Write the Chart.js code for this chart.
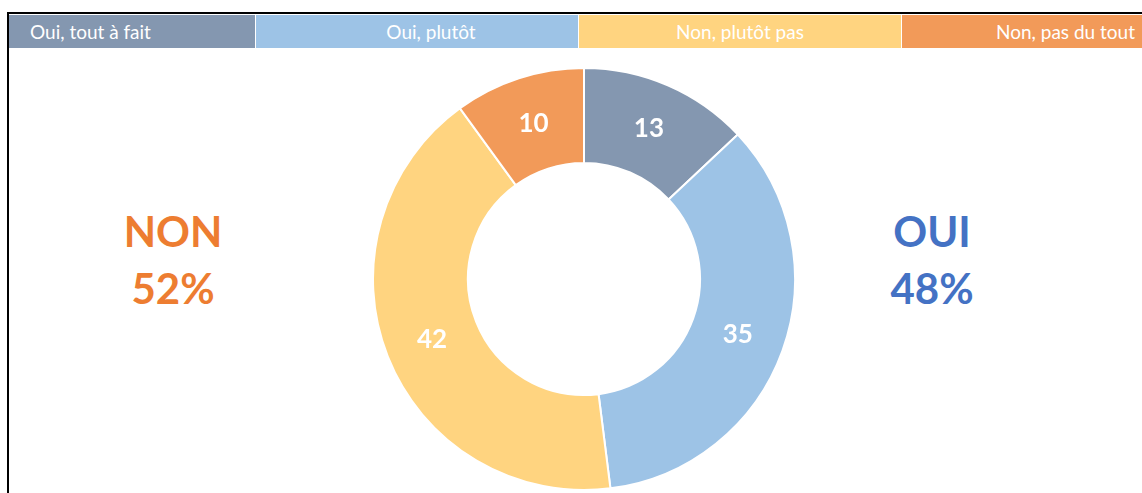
<!DOCTYPE html>
<html>
<head>
<meta charset="utf-8">
<script src="https://cdn.jsdelivr.net/npm/chart.js@4.4.1/dist/chart.umd.min.js"></script>
<style>
  html, body { margin: 0; padding: 0; background: #fff; }
  #wrap { position: relative; width: 1142px; height: 493px; overflow: hidden; font-family: Lato, 'Open Sans', sans-serif; }
  #frame { position: absolute; left: 7px; top: 12px; width: 1200px; height: 600px; border-left: 2px solid #000; border-top: 2px solid #000; }
  #legend { position: absolute; left: 9px; top: 15px; height: 33px; width: 1133px; display: flex; }
  .cell { height: 33px; line-height: 33px; color: #fff; font-size: 19px; box-sizing: border-box; white-space: nowrap; }
  .big { position: absolute; font-weight: 700; font-size: 42px; line-height: 57px; text-align: center; width: 200px; }
  #canvas-donut-wrap { position: absolute; left: 0; top: 0; width: 1142px; height: 493px; }
</style>
</head>
<body>
<div id="wrap">
  <div id="frame"></div>
  <div id="legend"></div>
  <div class="big" id="txt-non" style="left:73px; top:203px; color:#ED7D31;">NON<br>52%</div>
  <div class="big" id="txt-oui" style="left:832px; top:203px; color:#4472C4;">OUI<br>48%</div>
  <div id="canvas-donut-wrap"><canvas id="canvas-donut"></canvas></div>
</div>
<script>
// Categories and values
const categories = ['Oui, tout à fait', 'Oui, plutôt', 'Non, plutôt pas', 'Non, pas du tout'];
const values = [13, 35, 42, 10];
const sliceColors = ['#8497B0', '#9DC3E6', '#FFD480', '#F29A59'];

// legend strip across the top (cell widths + alignment as in the original)
const legendWidths = [246, 323, 323, 241];
const legendAlign = ['left', 'center', 'center', 'right'];
const legendPad = [21, 28, 0, 7];

const legendEl = document.getElementById('legend');
categories.forEach((cat, i) => {
  const d = document.createElement('div');
  d.className = 'cell';
  d.textContent = cat;
  d.style.width = legendWidths[i] + 'px';
  d.style.background = sliceColors[i];
  d.style.textAlign = legendAlign[i];
  if (legendAlign[i] === 'right') d.style.paddingRight = legendPad[i] + 'px';
  else d.style.paddingLeft = legendPad[i] + 'px';
  if (i > 0) d.style.borderLeft = '1px solid #fff';
  legendEl.appendChild(d);
});

/**
 * Draws value labels in the middle of each ring slice.
 */
const sliceLabels = {
  id: 'sliceLabels',
  afterDatasetsDraw(chart) {
    const { ctx } = chart;
    const meta = chart.getDatasetMeta(0);
    ctx.save();
    ctx.fillStyle = '#fff';
    ctx.font = 'bold 26px Lato, "Open Sans", sans-serif';
    ctx.textAlign = 'center';
    ctx.textBaseline = 'middle';
    meta.data.forEach((arc, i) => {
      const p = arc.tooltipPosition();
      ctx.fillText(String(values[i]), p.x, p.y);
    });
    ctx.restore();
  }
};

const ctx = document.getElementById('canvas-donut').getContext('2d');
new Chart(ctx, {
  type: 'doughnut',
  data: {
    labels: categories,
    datasets: [{
      data: values,
      backgroundColor: sliceColors,
      borderColor: '#fff',
      borderWidth: 2
    }]
  },
  options: {
    responsive: true,
    maintainAspectRatio: false,
    animation: false,
    cutout: '55%',
    layout: { padding: { top: 67, bottom: 2, left: 372, right: 346 } },
    plugins: {
      legend: { display: false },
      tooltip: { enabled: false }
    }
  },
  plugins: [sliceLabels]
});
</script>
</body>
</html>
